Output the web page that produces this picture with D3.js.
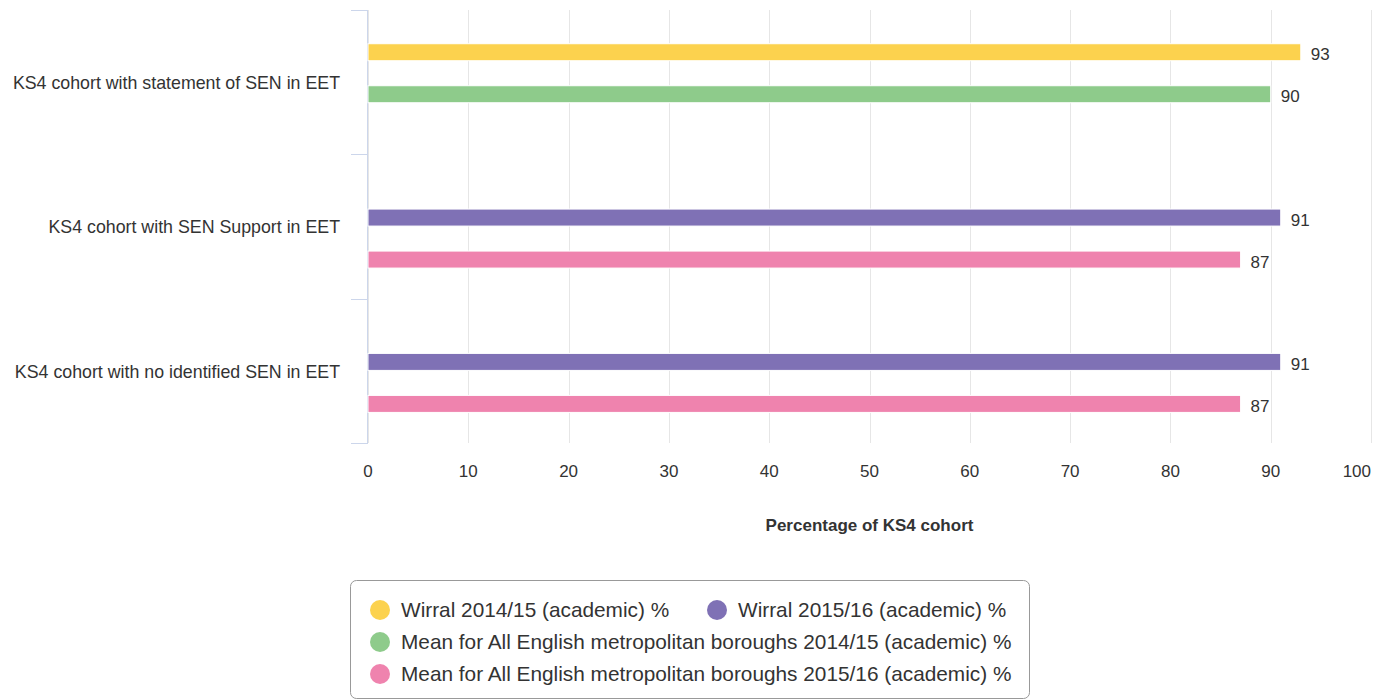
<!DOCTYPE html>
<html>
<head>
<meta charset="utf-8">
<script src="https://cdn.jsdelivr.net/npm/d3@7"></script>
<style>
  html, body { margin: 0; padding: 0; background: #fff; }
  svg { display: block; font-family: "Liberation Sans", Arial, sans-serif; }
</style>
</head>
<body>
<svg id="chart" width="1385" height="700"></svg>
<script>
const categories = [
  "KS4 cohort with statement of SEN in EET",
  "KS4 cohort with SEN Support in EET",
  "KS4 cohort with no identified SEN in EET"
];
const seriesNames = [
  "Wirral 2014/15 (academic) %",
  "Wirral 2015/16 (academic) %",
  "Mean for All English metropolitan boroughs 2014/15 (academic) %",
  "Mean for All English metropolitan boroughs 2015/16 (academic) %"
];
const seriesColors = ["#FCD24E", "#7F71B5", "#8ECB8B", "#EF83AE"];
const wirral1415 = [93, null, null];
const wirral1516 = [null, 91, 91];
const mean1415 = [90, null, null];
const mean1516 = [null, 87, 87];
const seriesValues = [wirral1415, wirral1516, mean1415, mean1516];
const xTicks = [0, 10, 20, 30, 40, 50, 60, 70, 80, 90, 100];
const xTitle = "Percentage of KS4 cohort";

(function () {
const svg = d3.select("#chart");
const pL = 368, pR = 1371, pT = 10, pB = 443;

const x = d3.scaleLinear().domain([0, 100]).range([pL, pR]);
const y = d3.scaleBand().domain(categories).range([pT, pB]).padding(0);
const inner = d3.scaleBand().domain(seriesNames).range([0, y.bandwidth()])
  .paddingInner(0).paddingOuter(1.436).align(0.526);

// gridlines
svg.append("g").selectAll("line").data(xTicks).join("line")
  .attr("x1", d => Math.round(x(d)) + 0.5).attr("x2", d => Math.round(x(d)) + 0.5)
  .attr("y1", pT).attr("y2", pB)
  .attr("stroke", "#e6e6e6").attr("stroke-width", 1);

// x tick labels (last one justified to stay inside the chart)
svg.append("g").selectAll("text").data(xTicks).join("text")
  .attr("x", (d, i) => i === xTicks.length - 1 ? pR : x(d))
  .attr("y", 477)
  .attr("text-anchor", (d, i) => i === xTicks.length - 1 ? "end" : "middle")
  .attr("font-size", 17).attr("fill", "#333")
  .text(d => d);

// y axis line & ticks
svg.append("line").attr("x1", pL - 0.5).attr("x2", pL - 0.5)
  .attr("y1", pT).attr("y2", pB).attr("stroke", "#ccd6eb");
const tickPos = categories.map(c => y(c)).concat([pB]);
svg.append("g").selectAll("line").data(tickPos).join("line")
  .attr("x1", 351).attr("x2", pL)
  .attr("y1", d => Math.round(d) + 0.5).attr("y2", d => Math.round(d) + 0.5)
  .attr("stroke", "#ccd6eb");

// category labels
svg.append("g").selectAll("text").data(categories).join("text")
  .attr("x", 340).attr("y", d => y(d) + y.bandwidth() / 2 + 0.5)
  .attr("dy", "0.35em")
  .attr("text-anchor", "end")
  .attr("font-size", 17.8).attr("fill", "#333")
  .text(d => d);

// bars
const barH = 17;
const points = [];
seriesValues.forEach((vals, si) => {
  vals.forEach((v, ci) => {
    if (v != null) points.push({ s: seriesNames[si], c: categories[ci], v, color: seriesColors[si] });
  });
});
svg.append("g").selectAll("rect").data(points).join("rect")
  .attr("x", pL)
  .attr("y", d => y(d.c) + inner(d.s) + inner.bandwidth() / 2 - barH / 2)
  .attr("width", d => x(d.v) - pL)
  .attr("height", barH)
  .attr("fill", d => d.color)
  .attr("stroke", "#fff").attr("stroke-width", 1);

// data labels
svg.append("g").selectAll("text").data(points).join("text")
  .attr("x", d => x(d.v) + 10)
  .attr("y", d => y(d.c) + inner(d.s) + inner.bandwidth() / 2 + 2)
  .attr("dy", "0.35em")
  .attr("font-size", 17).attr("fill", "#333")
  .text(d => d.v);

// axis title
svg.append("text").attr("x", (pL + pR) / 2).attr("y", 531)
  .attr("text-anchor", "middle").attr("font-size", 17).attr("font-weight", "bold")
  .attr("fill", "#333").text(xTitle);

// legend
const lg = svg.append("g");
lg.append("rect").attr("x", 350.5).attr("y", 580.5).attr("width", 679).attr("height", 118)
  .attr("rx", 6).attr("fill", "none").attr("stroke", "#999");
const legendPos = [
  { x: 380, y: 610 }, { x: 717, y: 610 }, { x: 380, y: 642 }, { x: 380, y: 674 }
];
seriesNames.forEach((n, i) => {
  const p = legendPos[i];
  lg.append("circle").attr("cx", p.x).attr("cy", p.y).attr("r", 10).attr("fill", seriesColors[i]);
  lg.append("text").attr("x", p.x + 21).attr("y", p.y).attr("dy", "0.35em")
    .attr("font-size", 20.8).attr("fill", "#333").text(n);
});
})();
</script>
</body>
</html>
